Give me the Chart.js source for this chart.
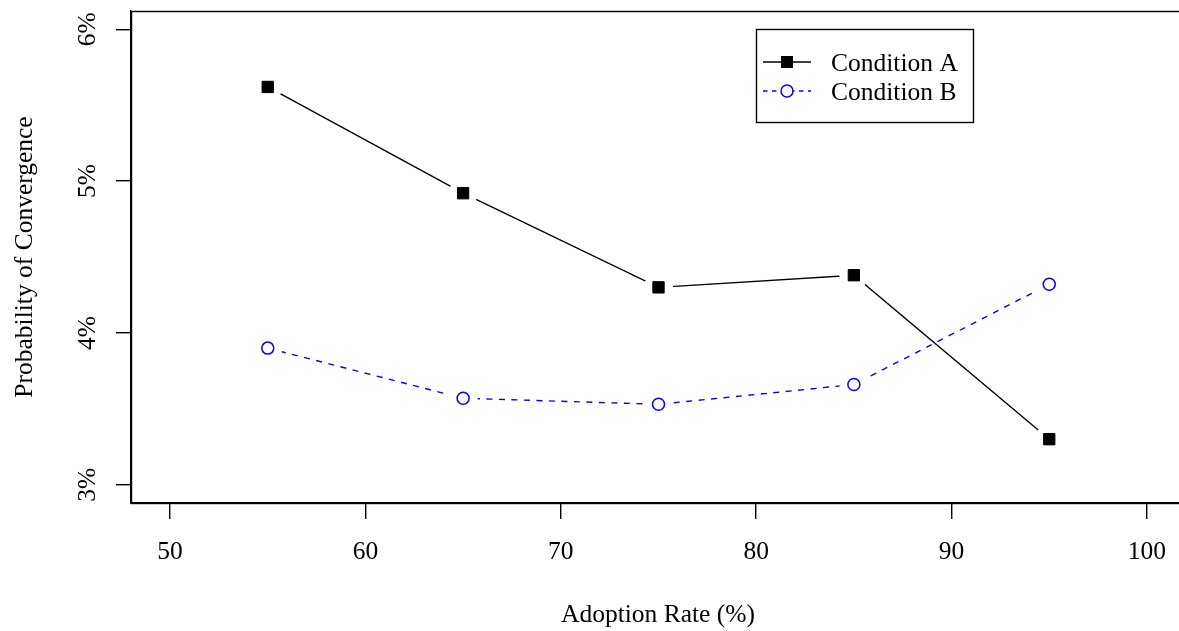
<!DOCTYPE html>
<html>
<head>
<meta charset="utf-8">
<script src="https://cdn.jsdelivr.net/npm/chart.js@4/dist/chart.umd.min.js"></script>
<style>
  html, body { margin: 0; padding: 0; background: #fff; overflow: hidden; }
  #wrap { width: 1200px; height: 631px; }
</style>
</head>
<body>
<div id="wrap"><canvas id="c" width="1200" height="631"></canvas></div>
<script>
// ---- data ----
const adoptionRates = [55, 65, 75, 85, 95];
const conditionA = [5.62, 4.92, 4.30, 4.38, 3.30];
const conditionB = [3.90, 3.57, 3.53, 3.66, 4.32];
const seriesNames = ['Condition A', 'Condition B'];
const xTickValues = [50, 60, 70, 80, 90, 100];
const xTickLabels = ['50', '60', '70', '80', '90', '100'];
const yTickValues = [3, 4, 5, 6];
const yTickLabels = ['3%', '4%', '5%', '6%'];
const xTitle = 'Adoption Rate (%)';
const yTitle = 'Probability of Convergence';

const FONT = "'Liberation Serif', 'Times New Roman', serif";
const FS = 25.5;
const BLUE = '#0000FF';

const pts = arr => adoptionRates.map((x, i) => ({ x: x, y: arr[i] }));

const datasets = [
  { label: seriesNames[0], data: pts(conditionA), borderColor: '#000', borderWidth: 1.4,
    pointRadius: 0, showLine: true, fill: false, order: 3 },
  { label: seriesNames[1], data: pts(conditionB), borderColor: BLUE, borderWidth: 1.4,
    borderDash: [6, 6.5], pointRadius: 0, showLine: true, fill: false, order: 3 },
  // gaps around points (R type "b")
  { label: 'gapA', data: pts(conditionA), showLine: false, pointRadius: 14.5, pointBorderWidth: 0,
    pointBackgroundColor: '#fff', pointBorderColor: '#fff', order: 2 },
  { label: 'gapB', data: pts(conditionB), showLine: false, pointRadius: 14.5, pointBorderWidth: 0,
    pointBackgroundColor: '#fff', pointBorderColor: '#fff', order: 2 },
  // markers
  { label: 'markA', data: pts(conditionA), showLine: false, pointStyle: 'rect', pointRadius: 8,
    pointBackgroundColor: '#000', pointBorderColor: '#000', pointBorderWidth: 1, order: 1 },
  { label: 'markB', data: pts(conditionB), showLine: false, pointStyle: 'circle', pointRadius: 6,
    pointBackgroundColor: '#fff', pointBorderColor: BLUE, pointBorderWidth: 1.5, order: 1 }
];

const decor = {
  id: 'decor',
  afterDraw(chart) {
    const ctx = chart.ctx, a = chart.chartArea;
    const ys = chart.scales.y;
    ctx.save();
    // box
    ctx.strokeStyle = '#000';
    ctx.lineWidth = 1.4;
    ctx.strokeRect(a.left + 0.5, a.top + 0.5, a.right - a.left, a.bottom - a.top);
    ctx.fillStyle = '#000';
    ctx.font = FS + 'px ' + FONT;
    // y tick labels (rotated, R style)
    yTickValues.forEach((v, i) => {
      const py = ys.getPixelForValue(v);
      ctx.save();
      ctx.translate(95, py);
      ctx.rotate(-Math.PI / 2);
      ctx.textAlign = 'center';
      ctx.textBaseline = 'alphabetic';
      ctx.fillText(yTickLabels[i], 0, 0);
      ctx.restore();
    });
    // y title
    ctx.save();
    ctx.translate(31.5, (a.top + a.bottom) / 2);
    ctx.rotate(-Math.PI / 2);
    ctx.textAlign = 'center';
    ctx.textBaseline = 'alphabetic';
    ctx.fillText(yTitle, 0, 0);
    ctx.restore();
    // x title
    ctx.textAlign = 'center';
    ctx.textBaseline = 'alphabetic';
    ctx.fillText(xTitle, 658, 621.5);
    // legend
    const lx = 756, ly = 29, lw = 217, lh = 93;
    ctx.fillStyle = '#fff';
    ctx.fillRect(lx, ly, lw, lh);
    ctx.lineWidth = 1.4;
    ctx.strokeStyle = '#000';
    ctx.strokeRect(lx + 0.5, ly + 0.5, lw, lh);
    const rows = [
      { y: 62, color: '#000', dash: [], name: seriesNames[0], marker: 'rect' },
      { y: 91, color: BLUE, dash: [4.5, 4.5], name: seriesNames[1], marker: 'circle' }
    ];
    rows.forEach(r => {
      ctx.save();
      ctx.strokeStyle = r.color;
      ctx.lineWidth = 1.4;
      ctx.setLineDash(r.dash);
      ctx.beginPath();
      ctx.moveTo(763, r.y);
      ctx.lineTo(811, r.y);
      ctx.stroke();
      ctx.setLineDash([]);
      if (r.marker === 'rect') {
        ctx.fillStyle = '#000';
        ctx.fillRect(787 - 6, r.y - 6, 12, 12);
      } else {
        ctx.beginPath();
        ctx.arc(787, r.y, 6, 0, Math.PI * 2);
        ctx.fillStyle = '#fff';
        ctx.fill();
        ctx.lineWidth = 1.5;
        ctx.strokeStyle = BLUE;
        ctx.stroke();
      }
      ctx.fillStyle = '#000';
      ctx.textAlign = 'left';
      ctx.textBaseline = 'alphabetic';
      ctx.font = FS + 'px ' + FONT;
      ctx.fillText(r.name, 831, r.y + 8.5);
      ctx.restore();
    });
    ctx.restore();
  }
};

new Chart(document.getElementById('c'), {
  type: 'scatter',
  data: { datasets: datasets },
  options: {
    responsive: false,
    animation: false,
    events: [],
    layout: { autoPadding: false, padding: { top: 11, right: 14, left: 0, bottom: 0 } },
    plugins: { legend: { display: false }, tooltip: { enabled: false } },
    scales: {
      x: {
        type: 'linear', min: 48, max: 102,
        afterFit: s => { s.height = 128; },
        afterBuildTicks: s => { s.ticks = xTickValues.map(v => ({ value: v })); },
        grid: { drawOnChartArea: false, drawTicks: true, tickLength: 16, color: '#000', lineWidth: 1.4 },
        border: { display: true, color: '#000', width: 1.4 },
        ticks: {
          color: '#000', padding: 18, maxRotation: 0, minRotation: 0, autoSkip: false,
          font: { family: FONT, size: FS },
          callback: (v) => { const i = xTickValues.indexOf(v); return i >= 0 ? xTickLabels[i] : ''; }
        }
      },
      y: {
        type: 'linear', min: 2.88, max: 6.12,
        afterFit: s => { s.width = 131; },
        afterBuildTicks: s => { s.ticks = yTickValues.map(v => ({ value: v })); },
        grid: { drawOnChartArea: false, drawTicks: true, tickLength: 15, color: '#000', lineWidth: 1.4 },
        border: { display: true, color: '#000', width: 1.4 },
        ticks: { display: false }
      }
    }
  },
  plugins: [decor]
});
</script>
</body>
</html>
